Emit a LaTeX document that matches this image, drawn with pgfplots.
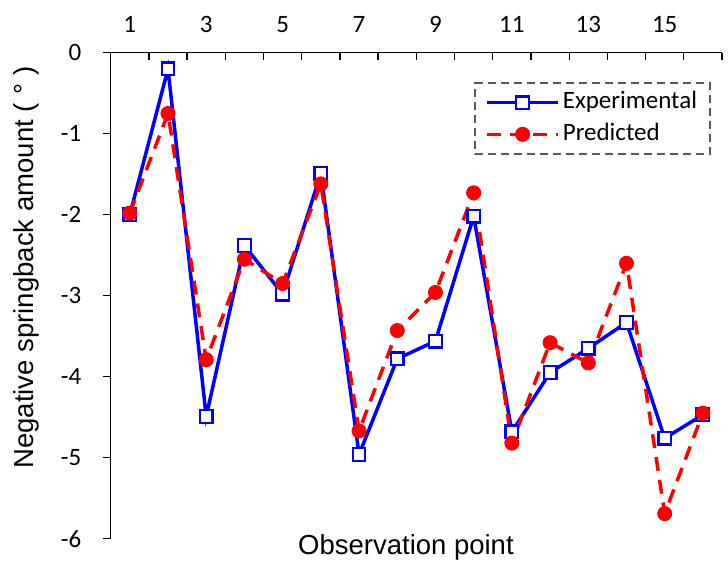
\documentclass[border=0pt]{standalone}
\usepackage{pgfplots}
\pgfplotsset{compat=1.18}
\usepackage{fontspec}
\setmainfont{Carlito}
\newfontfamily\arialf{Liberation Sans}
\definecolor{legframe}{RGB}{89,89,89}
\begin{document}
\begin{tikzpicture}
\begin{axis}[
  scale only axis, width=611.3pt, height=486pt,
  xmin=0.5, xmax=16.5, ymin=-6, ymax=0,
  axis x line=top, axis y line=left,
  axis line style={-, line width=1.3pt, black},
  clip=false,
  tick align=inside,
  xtick={1,3,5,7,9,11,13,15},
  xticklabels={1,3,5,7,9,11,13,15},
  minor xtick={0.5,1.5,...,16.5},
  every major x tick/.append style={draw=none},
  every minor x tick/.append style={black, line width=1.3pt},
  minor tick length=7.7pt,
  major tick length=7.7pt,
  ytick={-6,-5,-4,-3,-2,-1,0},
  yticklabels={-6,-5,-4,-3,-2,-1,0},
  every major y tick/.append style={black, line width=1.3pt, xshift=-7.7pt},
  ticklabel style={font=\fontsize{25}{25}\selectfont},
  xticklabel style={anchor=base, yshift=20.4pt},
  yticklabel style={anchor=east, inner sep=0pt, xshift=-29.2pt},
  label style={font=\arialf\fontsize{27.5}{33}\selectfont},
  xlabel={Observation point},
  xlabel style={at={([yshift=-16.3pt]rel axis cs:0.483,0)}, anchor=base},
  ylabel={Negative springback amount (\hspace{0.3em}°\hspace{0.3em})},
  ylabel style={at={([xshift=-77.4pt]rel axis cs:0,0.558)}, anchor=base},
  legend style={at={(1,1)}, anchor=north east, xshift=-11pt, yshift=-29.3pt,
    draw=legframe, /tikz/line width=2pt, /tikz/dash pattern=on 8pt off 5pt,
    font=\fontsize{25}{25}\selectfont,
    inner xsep=10pt, inner ysep=8.2pt, row sep=8.6pt,
    nodes={inner xsep=3pt, inner ysep=0pt, text height=17.5pt, text depth=5.5pt},
    cells={anchor=west}},
  legend image code/.code={\draw[mark repeat=2,mark phase=2,#1] plot coordinates {(0pt,0pt)(35.5pt,0pt)(71pt,0pt)};},
]
\addplot[solid, blue, line width=3.5pt, mark=square*, mark size=6.3pt,
  mark options={solid, fill=white, draw=blue, line width=2.3pt}]
  coordinates {(1,-2.0)(2,-0.20)(3,-4.49)(4,-2.38)(5,-2.98)(6,-1.49)(7,-4.96)(8,-3.78)
  (9,-3.56)(10,-2.02)(11,-4.68)(12,-3.95)(13,-3.65)(14,-3.33)(15,-4.76)(16,-4.47)};
\addlegendentry{Experimental}
\addplot[red, line width=3.5pt, dash pattern=on 14pt off 9pt, mark=*, mark size=7pt,
  mark options={solid, fill=red, draw=red, line width=1pt}]
  coordinates {(1,-1.98)(2,-0.75)(3,-3.79)(4,-2.55)(5,-2.85)(6,-1.62)(7,-4.67)(8,-3.43)
  (9,-2.96)(10,-1.73)(11,-4.82)(12,-3.58)(13,-3.83)(14,-2.60)(15,-5.69)(16,-4.45)};
\addlegendentry{Predicted}
\coordinate (O) at (rel axis cs:0,0);
\end{axis}
\path ([xshift=-110.7pt,yshift=-24.3pt]O) rectangle ++(728pt,563pt);
\end{tikzpicture}
\end{document}
